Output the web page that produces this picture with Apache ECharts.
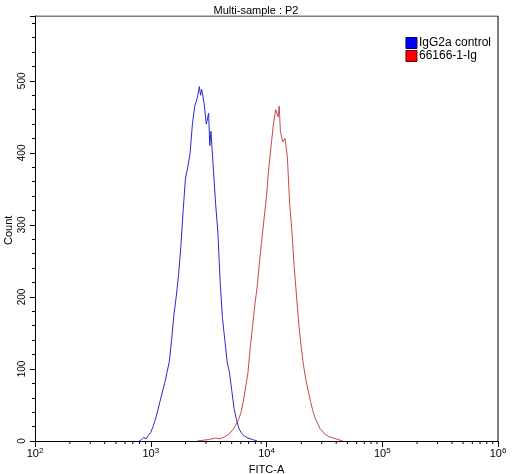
<!DOCTYPE html><html><head><meta charset="utf-8"><script src="https://cdn.jsdelivr.net/npm/echarts@6/dist/echarts.min.js"></script>
<style>html,body{margin:0;padding:0;background:#fff}#c{width:512px;height:474px}</style></head><body><div id="c"></div><script>
const seriesNames=['IgG2a control','66166-1-Ig'];
const xTickLabels=['2','3','4','5','6'];
const blueX=[2.90,2.92,2.94,2.96,2.98,3.00,3.02,3.04,3.06,3.08,3.10,3.12,3.14,3.16,3.18,3.20,3.22,3.24,3.26,3.28,3.30,3.32,3.34,3.36,3.38,3.40,3.42,3.43,3.44,3.46,3.48,3.50,3.51,3.52,3.54,3.56,3.58,3.60,3.62,3.64,3.66,3.68,3.70,3.72,3.74,3.76,3.78,3.80,3.84,3.88,3.92];
const blueY=[0,2,5,3,8,12,20,30,42,55,68,80,95,110,140,175,200,230,270,320,365,380,400,440,465,475,492,480,488,470,440,455,410,430,380,330,290,220,170,140,110,95,70,45,30,18,12,8,4,2,0];
const redX=[3.40,3.50,3.56,3.60,3.64,3.68,3.72,3.76,3.78,3.80,3.82,3.84,3.86,3.88,3.90,3.92,3.94,3.96,3.98,4.00,4.02,4.04,4.06,4.08,4.10,4.11,4.12,4.14,4.16,4.18,4.20,4.22,4.24,4.26,4.28,4.30,4.32,4.34,4.36,4.38,4.40,4.42,4.44,4.46,4.50,4.54,4.58,4.62,4.66];
const redY=[0,2,4,3,6,10,18,30,40,55,75,95,130,160,190,215,250,280,310,340,380,410,440,460,450,465,430,415,420,395,330,290,240,200,160,130,105,85,70,55,42,32,25,18,10,6,4,2,0];
const minorX=[];for(let d=2;d<6;d++)for(let k=2;k<10;k++)minorX.push(d+Math.log10(k));
const zip=(a,b)=>a.map((v,i)=>[v,b[i]]);
const ch=echarts.init(document.getElementById('c'));
const F='Liberation Sans, Arial, sans-serif';
ch.setOption({
 animation:false,
 title:{text:'Multi-sample : P2',left:'center',top:0,textStyle:{fontSize:11,fontWeight:'normal',color:'#000',fontFamily:F}},
 graphic:[{type:'text',x:3,y:245,rotation:Math.PI/2,style:{text:'Count',fontSize:11,fontFamily:F,fill:'#000'}}],
 grid:{left:35,right:14,top:16,bottom:33,containLabel:false,outerBoundsMode:'none'},
 legend:{orient:'vertical',right:16,top:32,itemWidth:11,itemHeight:11,itemGap:1,icon:'rect',textStyle:{fontSize:12,color:'#000',fontFamily:F,padding:[0,0,0,-3]},
   data:[{name:seriesNames[0],itemStyle:{color:'#0000ff',borderColor:'#000060',borderWidth:1}},{name:seriesNames[1],itemStyle:{color:'#ff0000',borderColor:'#600000',borderWidth:1}}]},
 xAxis:{type:'value',min:2,max:6,interval:1,name:'FITC-A',nameLocation:'middle',nameGap:23,nameTextStyle:{fontSize:11,color:'#000',fontFamily:F},
   axisLine:{lineStyle:{color:'#000'}},axisTick:{length:6,lineStyle:{color:'#000'}},splitLine:{show:false},
   axisLabel:{color:'#000',fontFamily:F,margin:6,formatter:v=>'{b|10}{s|'+v+'}',rich:{b:{fontSize:11,fontFamily:F,color:'#000'},s:{fontSize:8,fontFamily:F,color:'#000',verticalAlign:'top',padding:[0,0,6,0]}}}},
 yAxis:{type:'value',min:0,max:590,interval:100,
   axisLine:{show:true,lineStyle:{color:'#000'}},axisTick:{show:true,length:5,lineStyle:{color:'#000'}},minorTick:{show:true,splitNumber:5,length:3,lineStyle:{color:'#000'}},splitLine:{show:false},
   axisLabel:{color:'#000',fontSize:10,fontFamily:F,rotate:90,margin:8,showMaxLabel:false}},
 series:[
  {name:seriesNames[0],type:'line',data:zip(blueX,blueY),showSymbol:false,lineStyle:{color:'#2a2ad0',width:1},itemStyle:{color:'#0000ff'}},
  {name:seriesNames[1],type:'line',data:zip(redX,redY),showSymbol:false,lineStyle:{color:'#c84a4a',width:1},itemStyle:{color:'#ff0000'}},
  {type:'custom',silent:true,data:minorX.map(v=>[v,0]),renderItem:(p,api)=>{const c=api.coord([api.value(0),0]);return{type:'line',shape:{x1:c[0],y1:c[1],x2:c[0],y2:c[1]+3},style:{stroke:'#000',lineWidth:1}};}},
  {type:'line',silent:true,data:[[2,590],[6,590],[6,0]],showSymbol:false,lineStyle:{color:'#000',width:1}}
 ]
});
</script></body></html>
